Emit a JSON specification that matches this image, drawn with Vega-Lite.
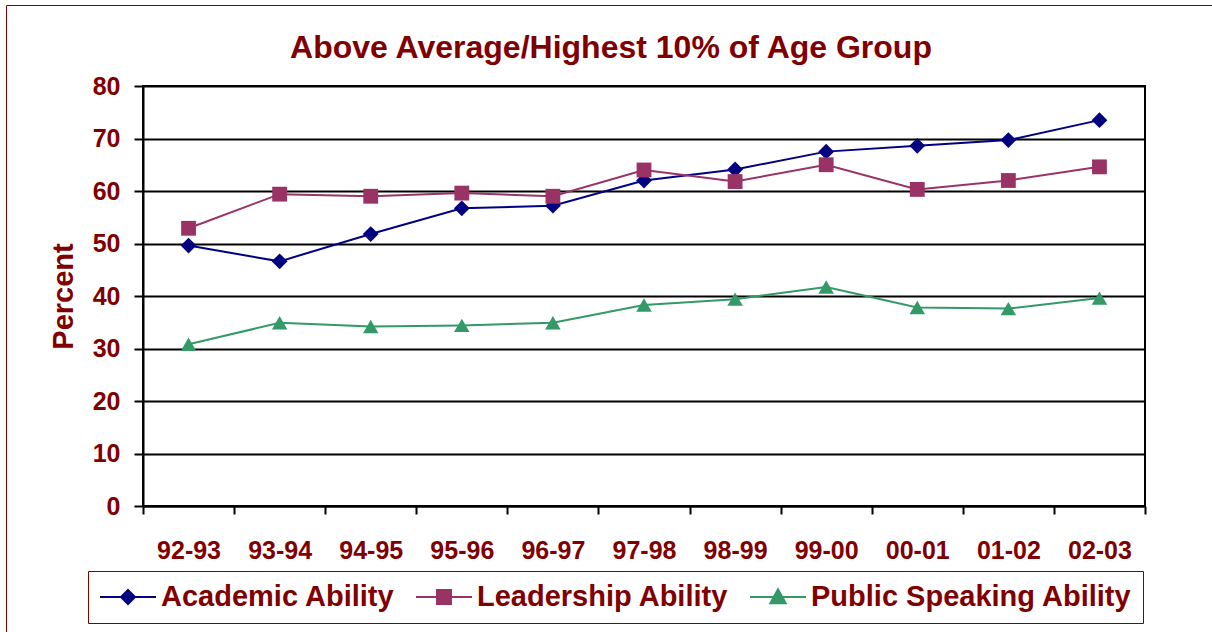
{
  "$schema": "https://vega.github.io/schema/vega-lite/v6.json",
  "width": 1002,
  "height": 420,
  "autosize": {"type": "none"},
  "padding": {"left": 143, "top": 86, "right": 67, "bottom": 126},
  "background": "white",
  "title": {
    "text": "Above Average/Highest 10% of Age Group",
    "font": "Liberation Sans",
    "fontSize": 32,
    "fontWeight": "bold",
    "color": "#800000",
    "anchor": "middle",
    "frame": "group",
    "dx": -33,
    "offset": -60
  },
  "data": {
    "values": [
      {"period": "92-93", "series": "Academic Ability", "value": 49.6},
      {"period": "93-94", "series": "Academic Ability", "value": 46.6},
      {"period": "94-95", "series": "Academic Ability", "value": 51.8},
      {"period": "95-96", "series": "Academic Ability", "value": 56.7},
      {"period": "96-97", "series": "Academic Ability", "value": 57.2},
      {"period": "97-98", "series": "Academic Ability", "value": 62.0},
      {"period": "98-99", "series": "Academic Ability", "value": 64.1},
      {"period": "99-00", "series": "Academic Ability", "value": 67.5},
      {"period": "00-01", "series": "Academic Ability", "value": 68.6},
      {"period": "01-02", "series": "Academic Ability", "value": 69.7},
      {"period": "02-03", "series": "Academic Ability", "value": 73.5},
      {"period": "92-93", "series": "Leadership Ability", "value": 52.9},
      {"period": "93-94", "series": "Leadership Ability", "value": 59.4},
      {"period": "94-95", "series": "Leadership Ability", "value": 59.0},
      {"period": "95-96", "series": "Leadership Ability", "value": 59.6},
      {"period": "96-97", "series": "Leadership Ability", "value": 59.0},
      {"period": "97-98", "series": "Leadership Ability", "value": 64.0},
      {"period": "98-99", "series": "Leadership Ability", "value": 61.8},
      {"period": "99-00", "series": "Leadership Ability", "value": 65.0},
      {"period": "00-01", "series": "Leadership Ability", "value": 60.3},
      {"period": "01-02", "series": "Leadership Ability", "value": 62.0},
      {"period": "02-03", "series": "Leadership Ability", "value": 64.6},
      {"period": "92-93", "series": "Public Speaking Ability", "value": 30.8},
      {"period": "93-94", "series": "Public Speaking Ability", "value": 34.9},
      {"period": "94-95", "series": "Public Speaking Ability", "value": 34.2},
      {"period": "95-96", "series": "Public Speaking Ability", "value": 34.4},
      {"period": "96-97", "series": "Public Speaking Ability", "value": 34.9},
      {"period": "97-98", "series": "Public Speaking Ability", "value": 38.3},
      {"period": "98-99", "series": "Public Speaking Ability", "value": 39.4},
      {"period": "99-00", "series": "Public Speaking Ability", "value": 41.7},
      {"period": "00-01", "series": "Public Speaking Ability", "value": 37.8},
      {"period": "01-02", "series": "Public Speaking Ability", "value": 37.6},
      {"period": "02-03", "series": "Public Speaking Ability", "value": 39.6}
    ]
  },
  "encoding": {
    "x": {
      "field": "period",
      "type": "ordinal",
      "sort": null,
      "scale": {"type": "band", "paddingInner": 0, "paddingOuter": 0},
      "axis": {
        "title": null,
        "labelAngle": 0,
        "tickBand": "extent",
        "grid": false,
        "tickSize": 8,
        "tickWidth": 2,
        "tickColor": "black",
        "domainColor": "black",
        "domainWidth": 2,
        "labelPadding": 24,
        "labelFont": "Liberation Sans",
        "labelFontSize": 25,
        "labelFontWeight": "bold",
        "labelColor": "#800000"
      }
    },
    "y": {
      "field": "value",
      "type": "quantitative",
      "scale": {"domain": [0, 80], "nice": false},
      "axis": {
        "values": [0, 10, 20, 30, 40, 50, 60, 70, 80],
        "title": "Percent",
        "titleFont": "Liberation Sans",
        "titleFontSize": 29,
        "titleFontWeight": "bold",
        "titleColor": "#800000",
        "titlePadding": 14,
        "labelFont": "Liberation Sans",
        "labelFontSize": 25,
        "labelFontWeight": "bold",
        "labelColor": "#800000",
        "labelPadding": 14,
        "tickSize": 9,
        "tickWidth": 2,
        "tickColor": "black",
        "domainColor": "black",
        "domainWidth": 2,
        "grid": true,
        "gridColor": "black",
        "gridWidth": 2,
        "gridOpacity": 1
      }
    },
    "color": {
      "field": "series",
      "type": "nominal",
      "scale": {
        "domain": ["Academic Ability", "Leadership Ability", "Public Speaking Ability"],
        "range": ["#000080", "#993366", "#339966"]
      },
      "legend": {
        "orient": "none",
        "legendX": -55,
        "legendY": 485,
        "direction": "horizontal",
        "columns": 3,
        "title": null,
        "labelFont": "Liberation Sans",
        "labelFontSize": 29,
        "labelFontWeight": "bold",
        "labelColor": "#800000",
        "labelLimit": 0,
        "strokeColor": "#800000",
        "padding": 11,
        "columnPadding": 17,
        "symbolSize": 784,
        "symbolStrokeWidth": 2,
        "labelOffset": 32,
        "symbolOpacity": 1
      }
    }
  },
  "layer": [
    {"mark": {"type": "line", "strokeWidth": 2}},
    {
      "transform": [{"filter": "datum.series === 'Academic Ability'"}],
      "mark": {"type": "point", "filled": true, "size": 250, "opacity": 1, "shape": "diamond"}
    },
    {
      "transform": [{"filter": "datum.series === 'Leadership Ability'"}],
      "mark": {"type": "point", "filled": true, "size": 220, "opacity": 1, "shape": "square"}
    },
    {
      "transform": [{"filter": "datum.series === 'Public Speaking Ability'"}],
      "mark": {"type": "point", "filled": true, "size": 240, "opacity": 1, "shape": "triangle-up"}
    },
    {
      "mark": {"type": "point", "filled": true, "opacity": 0, "size": 10},
      "encoding": {
        "shape": {
          "field": "series",
          "type": "nominal",
          "scale": {
            "domain": ["Academic Ability", "Leadership Ability", "Public Speaking Ability"],
            "range": [
              "M-1,0H3M1,-0.5L1.5,0L1,0.5L0.5,0Z",
              "M-1,0H3M0.5,-0.5H1.5V0.5H0.5Z",
              "M-1,0H3M1,-0.55L1.55,0.45L0.45,0.45Z"
            ]
          },
          "legend": null
        },
        "opacity": {
          "field": "period",
          "type": "ordinal",
          "scale": {"range": [0, 0]},
          "legend": {
            "orient": "none",
            "legendX": -137,
            "legendY": -81,
            "direction": "horizontal",
            "columns": 11,
            "title": null,
            "labelExpr": "''",
            "labelFontSize": 1,
            "labelOffset": 0,
            "symbolSize": 1,
            "symbolOpacity": 0,
            "columnPadding": 0,
            "rowPadding": 0,
            "strokeColor": "#800000",
            "padding": 640
          }
        }
      }
    }
  ],
  "config": {
    "font": "Liberation Sans",
    "view": {"stroke": "black", "strokeWidth": 2}
  }
}
